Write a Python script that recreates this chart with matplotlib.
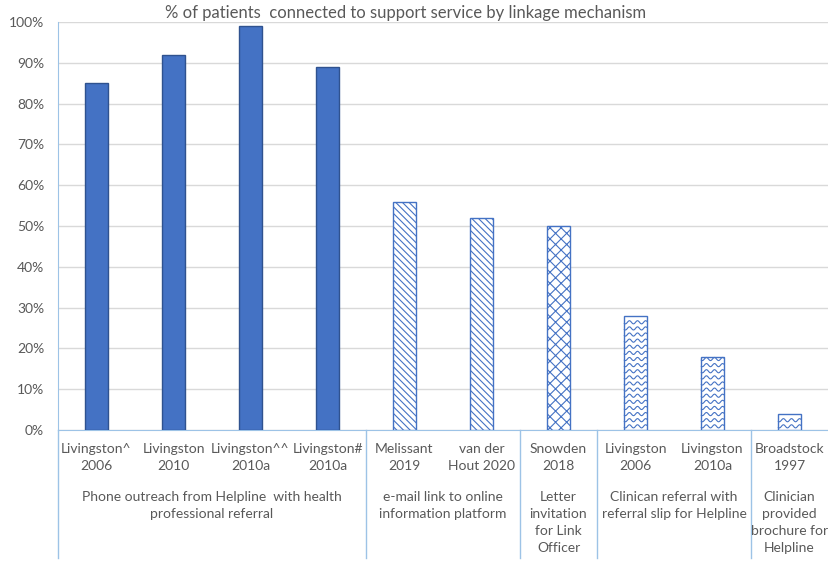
import numpy as np
import matplotlib.pyplot as plt
import matplotlib.transforms as mtransforms

studies = ["Livingston^\n2006", "Livingston\n2010", "Livingston^^\n2010a", "Livingston#\n2010a",
           "Melissant\n2019", "van der\nHout 2020", "Snowden\n2018",
           "Livingston\n2006", "Livingston\n2010a", "Broadstock\n1997"]
values = [85, 92, 99, 89, 56, 52, 50, 28, 18, 4]
styles = ["solid"] * 4 + ["diag", "diag", "cross", "wave", "wave", "wave"]
groups = ["Phone outreach from Helpline  with health\nprofessional referral",
          "e-mail link to online\ninformation platform",
          "Letter\ninvitation\nfor Link\nOfficer",
          "Clinican referral with\nreferral slip for Helpline",
          "Clinician\nprovided\nbrochure for\nHelpline"]
group_sizes = [4, 2, 1, 2, 1]

plt.rcParams['font.family'] = ['Lato', 'DejaVu Sans']
plt.rcParams['hatch.linewidth'] = 0.8
blue = "#4472C4"
edge = "#2F528F"
grey = "#595959"
sep = "#9DC3E6"
bw = 0.31

fig = plt.figure(figsize=(8.29, 5.62), dpi=100)
ax = fig.add_axes([58 / 829, 1 - 430 / 562, 770 / 829, 408 / 562])

x = np.arange(len(values))
for xi, v, st in zip(x, values, styles):
    if st == "solid":
        ax.bar(xi, v, width=bw, color=blue, edgecolor=edge, linewidth=1, zorder=3)
    elif st == "diag":
        ax.bar(xi, v, width=bw, color="white", edgecolor=blue, hatch="\\\\\\\\\\", linewidth=1, zorder=3)
    elif st == "cross":
        ax.bar(xi, v, width=bw, color="white", edgecolor=blue, hatch="xxx", linewidth=1, zorder=3)
    else:
        ax.bar(xi, v, width=bw, color="white", edgecolor=blue, linewidth=1, zorder=3)
        # wavy fill texture kept inside the bar
        wx = np.linspace(xi - bw / 2 + 0.01, xi + bw / 2 - 0.01, 120)
        for base in np.arange(0.9, v - 0.5, 1.5):
            ax.plot(wx, base + 0.38 * np.sin(2 * np.pi * (wx - xi) / 0.105), color=blue,
                    lw=0.8, zorder=4)

ax.set_xlim(-0.5, len(values) - 0.5)
ax.set_ylim(0, 100)
ax.set_yticks(np.arange(0, 101, 10))
ax.set_yticklabels([f"{t}%" for t in range(0, 101, 10)])
ax.tick_params(axis='y', length=0, colors=grey, labelsize=10, pad=10)
ax.set_xticks([])
ax.grid(axis='y', color="#D9D9D9", linewidth=1, zorder=0)
for s in ["top", "right"]:
    ax.spines[s].set_visible(False)
ax.spines["left"].set_color(sep)
ax.spines["bottom"].set_color(sep)

trans = mtransforms.blended_transform_factory(ax.transData, ax.transAxes)
for xi, lab in zip(x, studies):
    ax.text(xi, -0.033, lab, transform=trans, ha='center', va='top', color=grey,
            fontsize=10, linespacing=1.5)

bottom = -(558 - 430) / 408
start = 0
for g, n in zip(groups, group_sizes):
    centre = start + (n - 1) / 2
    ax.text(centre, -0.149, g, transform=trans, ha='center', va='top', color=grey,
            fontsize=10, linespacing=1.5)
    ax.plot([start - 0.5, start - 0.5], [0, bottom], transform=trans, color=sep,
            lw=1, clip_on=False)
    start += n

fig.text(406 / 829, 1 - 13 / 562, "% of patients  connected to support service by linkage mechanism",
         ha='center', va='center', color=grey, fontsize=12)

fig.savefig("out.png", dpi=100)
